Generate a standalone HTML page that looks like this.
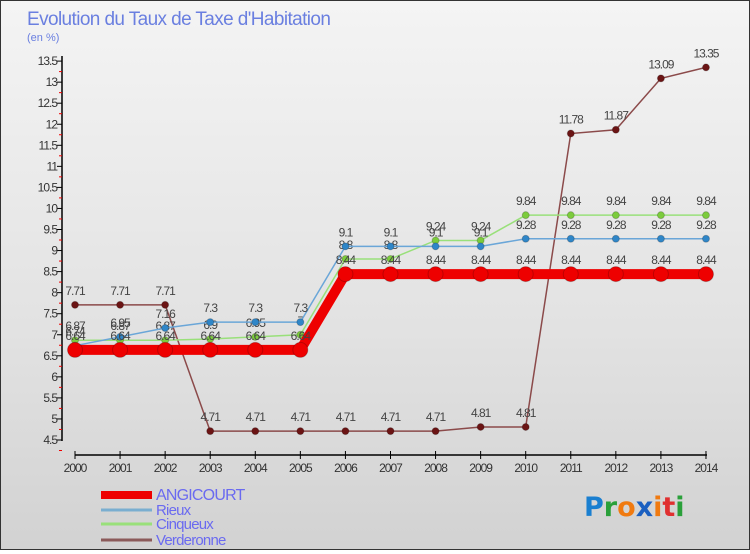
<!DOCTYPE html>
<html><head><meta charset="utf-8"><style>
html,body{margin:0;padding:0}
body{width:750px;height:550px;overflow:hidden;font-family:"Liberation Sans",sans-serif}
#wrap{position:relative;width:748px;height:548px;border:1px solid #333;background:linear-gradient(180deg,#f4f4f4 0%,#e2e2e2 60%,#d2d2d2 100%)}
</style></head><body>
<div id="wrap">
<svg id="chart" width="748" height="548"></svg>
</div>
<script>
const years=[2000,2001,2002,2003,2004,2005,2006,2007,2008,2009,2010,2011,2012,2013,2014];
const angicourt=[6.64,6.64,6.64,6.64,6.64,6.64,8.44,8.44,8.44,8.44,8.44,8.44,8.44,8.44,8.44];
const rieux=[6.74,6.95,7.16,7.3,7.3,7.3,9.1,9.1,9.1,9.1,9.28,9.28,9.28,9.28,9.28];
const cinqueux=[6.87,6.87,6.87,6.9,6.95,7,8.8,8.8,9.24,9.24,9.84,9.84,9.84,9.84,9.84];
const verderonne=[7.71,7.71,7.71,4.71,4.71,4.71,4.71,4.71,4.71,4.81,4.81,11.78,11.87,13.09,13.35];
const yTicks=[4.5,5,5.5,6,6.5,7,7.5,8,8.5,9,9.5,10,10.5,11,11.5,12,12.5,13,13.5];
const NS="http://www.w3.org/2000/svg";
const svg=document.getElementById('chart');
function x(i){return 74+i*45.07;}
function y(v){return 439-(v-4.5)*42.1;}
function el(tag,attrs,parent){const e=document.createElementNS(NS,tag);for(const k in attrs)e.setAttribute(k,attrs[k]);(parent||svg).appendChild(e);return e;}
function txt(s,attrs){const t=el('text',attrs);t.textContent=s;return t;}
let t;
t=txt('Evolution du Taux de Taxe d\'Habitation',{x:26,y:24,'font-size':19,fill:'#6a7fe0','letter-spacing':'-0.6'});


t=txt('(en %)',{x:26,y:40,'font-size':11,fill:'#6a7fe0'});


let a=el('line',{x1:61,y1:55,x2:61,y2:440,stroke:'#000','stroke-width':1.5});


a=el('line',{x1:74,y1:454,x2:706,y2:454,stroke:'#000','stroke-width':1.5});


yTicks.forEach(v=>{
  el('line',{x1:56,y1:y(v),x2:61,y2:y(v),stroke:'#000'});
  el('line',{x1:58,y1:y(v)+10.5,x2:61,y2:y(v)+10.5,stroke:'#e00'});
  const l=txt(String(v),{x:56,y:y(v)+4,'font-size':12,'text-anchor':'end',fill:'#333','letter-spacing':'-1'});
  
  
});
years.forEach((yr,i)=>{
  el('line',{x1:x(i),y1:450,x2:x(i),y2:458,stroke:'#000'});
  const l=txt(String(yr),{x:x(i),y:471,'font-size':12,'text-anchor':'middle',fill:'#333','letter-spacing':'-1'});
  
  
});
function series(data,color,w,r,dot,name){
  const g=el('g',{});
  
  
  el('polyline',{points:data.map((v,i)=>x(i)+','+y(v)).join(' '),fill:'none',stroke:color,'stroke-width':w},g);
  data.forEach((v,i)=>{
    const c=el('circle',{cx:x(i),cy:y(v),r:r,fill:dot,stroke:'#0003'},g);
    
    
    const l=el('text',{x:x(i),y:y(v)-10,'font-size':12,'text-anchor':'middle',fill:'#444','letter-spacing':'-1'},g);
    l.textContent=String(v);
  });
}
series(verderonne,'#8b4a4a',1.5,3.5,'#6b1414','series-verderonne');
series(cinqueux,'#99e07a',1.5,3.5,'#7ccc3c','series-cinqueux');
series(rieux,'#6aa6d8',1.5,3.5,'#2f86c8','series-rieux');
series(angicourt,'#ee0000',10,7.5,'#ee0000','series-angicourt');
const leg=[['ANGICOURT','#ee0000',8],['Rieux','#7aaed0',3],['Cinqueux','#99e07a',3],['Verderonne','#8b5a5a',3]];
const ly=[493,508,522,538];
leg.forEach((d,i)=>{
  const g=el('g',{});
  
  
  el('line',{x1:100,y1:ly[i]+1,x2:151,y2:ly[i]+1,stroke:d[1],'stroke-width':d[2]},g);
  const l=el('text',{x:155,y:ly[i]+6,'font-size':i==0?16:15,fill:'#6a6af0','letter-spacing':'-0.8'},g);
  l.textContent=d[0];
});
const lg=el('text',{x:583,y:515,'font-size':27,'font-weight':'bold','font-family':'"DejaVu Sans",sans-serif'});


[['P','#1a7fd0'],['r','#2aa03a'],['o','#f07a10'],['x','#1a5fc0'],['i','#f07a10'],['t','#e03030'],['i','#2aa03a']].forEach(c=>{
  const s=el('tspan',{fill:c[1]},lg);s.textContent=c[0];
});
</script>
</body></html>
